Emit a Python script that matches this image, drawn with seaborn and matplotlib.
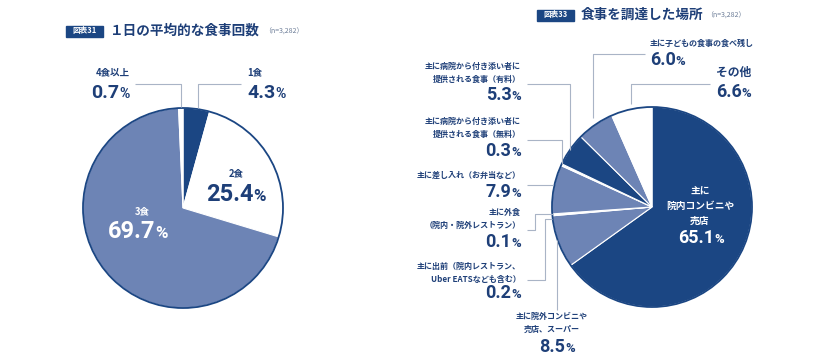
import matplotlib
matplotlib.use('Agg')
import matplotlib.pyplot as plt
import seaborn as sns
from matplotlib.patches import Rectangle, Circle

# データ
meal_labels = ['1食', '2食', '3食', '4食以上']
meal_values = [4.3, 25.4, 69.7, 0.7]

place_labels = [
    '主に\n院内コンビニや\n売店',
    '主に院外コンビニや\n売店、スーパー',
    '主に出前（院内レストラン、\nUber EATSなども含む）',
    '主に外食\n（院内・院外レストラン）',
    '主に差し入れ（お弁当など）',
    '主に病院から付き添い者に\n提供される食事（無料）',
    '主に病院から付き添い者に\n提供される食事（有料）',
    '主に子どもの食事の食べ残し',
    'その他',
]
place_values = [65.1, 8.5, 0.2, 0.1, 7.9, 0.3, 5.3, 6.0, 6.6]

sns.set_theme(style='white')
plt.rcParams['font.family'] = ['Noto Sans CJK JP', 'DejaVu Sans']

NAVY = '#1b4683'
SLATE = '#6d84b5'
TXT = '#1e3f78'
LINE = '#a9b4c6'
NUM_FONT = ['Roboto', 'DejaVu Sans']

meal_colors = [NAVY, 'white', SLATE, 'white']
place_colors = [NAVY, SLATE, 'white', 'white', SLATE, 'white', NAVY, SLATE, 'white']

W, H = 834, 357
fig = plt.figure(figsize=(W / 100, H / 100), dpi=100)
fig.patch.set_facecolor('white')


def pie_axes(cx, cy, r):
    return fig.add_axes([(cx - r) / W, (H - cy - r) / H, 2 * r / W, 2 * r / H])


def draw_pie(ax, values, colors):
    ax.pie(values, colors=colors, startangle=90, counterclock=False, radius=1,
           wedgeprops=dict(edgecolor='white', linewidth=0.8))
    ax.add_patch(Circle((0, 0), 1, fill=False, ec=NAVY, lw=1.3, clip_on=False))
    ax.set_xlim(-1, 1)
    ax.set_ylim(-1, 1)
    ax.axis('off')


ax1 = pie_axes(183, 208, 100)
draw_pie(ax1, meal_values, meal_colors)
ax2 = pie_axes(652, 207, 100)
draw_pie(ax2, place_values, place_colors)

# 文字・引き出し線用のオーバーレイ（ピクセル座標）
ov = fig.add_axes([0, 0, 1, 1])
ov.set_xlim(0, W)
ov.set_ylim(H, 0)
ov.axis('off')
ov.patch.set_alpha(0)
renderer = fig.canvas.get_renderer()


def pct(x, y, value, size, color=TXT, ha='left'):
    t1 = ov.text(0, y, f'{value:.1f}', fontsize=size, fontweight='bold',
                 color=color, va='baseline', family=NUM_FONT)
    t2 = ov.text(0, y, '%', fontsize=size * 0.72, fontweight='bold',
                 color=color, va='baseline', family=NUM_FONT)
    w1 = t1.get_window_extent(renderer).width
    w2 = t2.get_window_extent(renderer).width
    gap = 0
    total = w1 + gap + w2
    if ha == 'left':
        x0 = x
    elif ha == 'right':
        x0 = x - total
    else:
        x0 = x - total / 2
    t1.set_x(x0)
    t2.set_x(x0 + w1 + gap)


def label(x, y, s, size=5.8, color=TXT, ha='right', weight='bold'):
    ov.text(x, y, s, fontsize=size, color=color, ha=ha, va='center',
            fontweight=weight, linespacing=1.6)


def leader(xs, ys):
    ov.plot(xs, ys, color=LINE, lw=0.8, solid_capstyle='butt')


def title(bx, by, badge, text, nx):
    ov.add_patch(Rectangle((bx, by - 5.5), 37, 11, color=NAVY))
    ov.text(bx + 18.5, by, badge, fontsize=5.5, color='white', ha='center',
            va='center', fontweight='bold')
    ov.text(bx + 44, by, text, fontsize=9.8, color=TXT, ha='left', va='center',
            fontweight='bold')
    ov.text(nx, by + 1, '（n=3,282）', fontsize=5, color='#6a7b96', ha='left',
            va='center')


# 図表31
title(66, 31, '図表31', '１日の平均的な食事回数', 264)

label(130, 72, meal_labels[3], size=6.8)
pct(130, 98, meal_values[3], 14, ha='right')
leader([135, 181, 181], [84, 84, 107])

label(247, 72, meal_labels[0], size=6.8, ha='left')
pct(247, 98, meal_values[0], 14)
leader([241, 198, 198], [84, 84, 108])

label(236, 173, meal_labels[1], size=6.8, ha='center')
pct(236, 201, meal_values[1], 17, ha='center')

label(142, 211, meal_labels[2], size=6.8, ha='center', color='white')
pct(138, 238, meal_values[2], 17, color='white', ha='center')

# 図表33
title(537, 15, '図表33', '食事を調達した場所', 706)

label(700, 206, place_labels[0], size=7, ha='center', color='white')
pct(701, 243, place_values[0], 13, color='white', ha='center')

label(552, 323, place_labels[1], ha='center')
pct(557, 352, place_values[1], 13, ha='center')
leader([557, 557], [310, 240])

label(521, 273, place_labels[2])
pct(521, 298, place_values[2], 13, ha='right')
leader([527, 545, 545, 552], [280, 280, 219, 219])

label(521, 219, place_labels[3])
pct(521, 247, place_values[3], 13, ha='right')
leader([527, 535, 535, 553], [230, 230, 214, 214])

label(521, 175, place_labels[4])
pct(521, 197, place_values[4], 13, ha='right')
leader([527, 553], [185, 185])

label(521, 128, place_labels[5])
pct(521, 156, place_values[5], 13, ha='right')
leader([527, 562, 562], [140, 140, 164])

label(521, 73, place_labels[6])
pct(521, 100, place_values[6], 13, ha='right')
leader([527, 570, 570], [84, 84, 150])

label(650, 43, place_labels[7], ha='left')
pct(650, 65, place_values[7], 13)
leader([645, 593, 593], [54, 54, 118])

label(716, 72, place_labels[8], size=8.5, ha='left')
pct(716, 97, place_values[8], 13)
leader([710, 631, 631], [84, 84, 104])

fig.savefig('out.png', dpi=100)
